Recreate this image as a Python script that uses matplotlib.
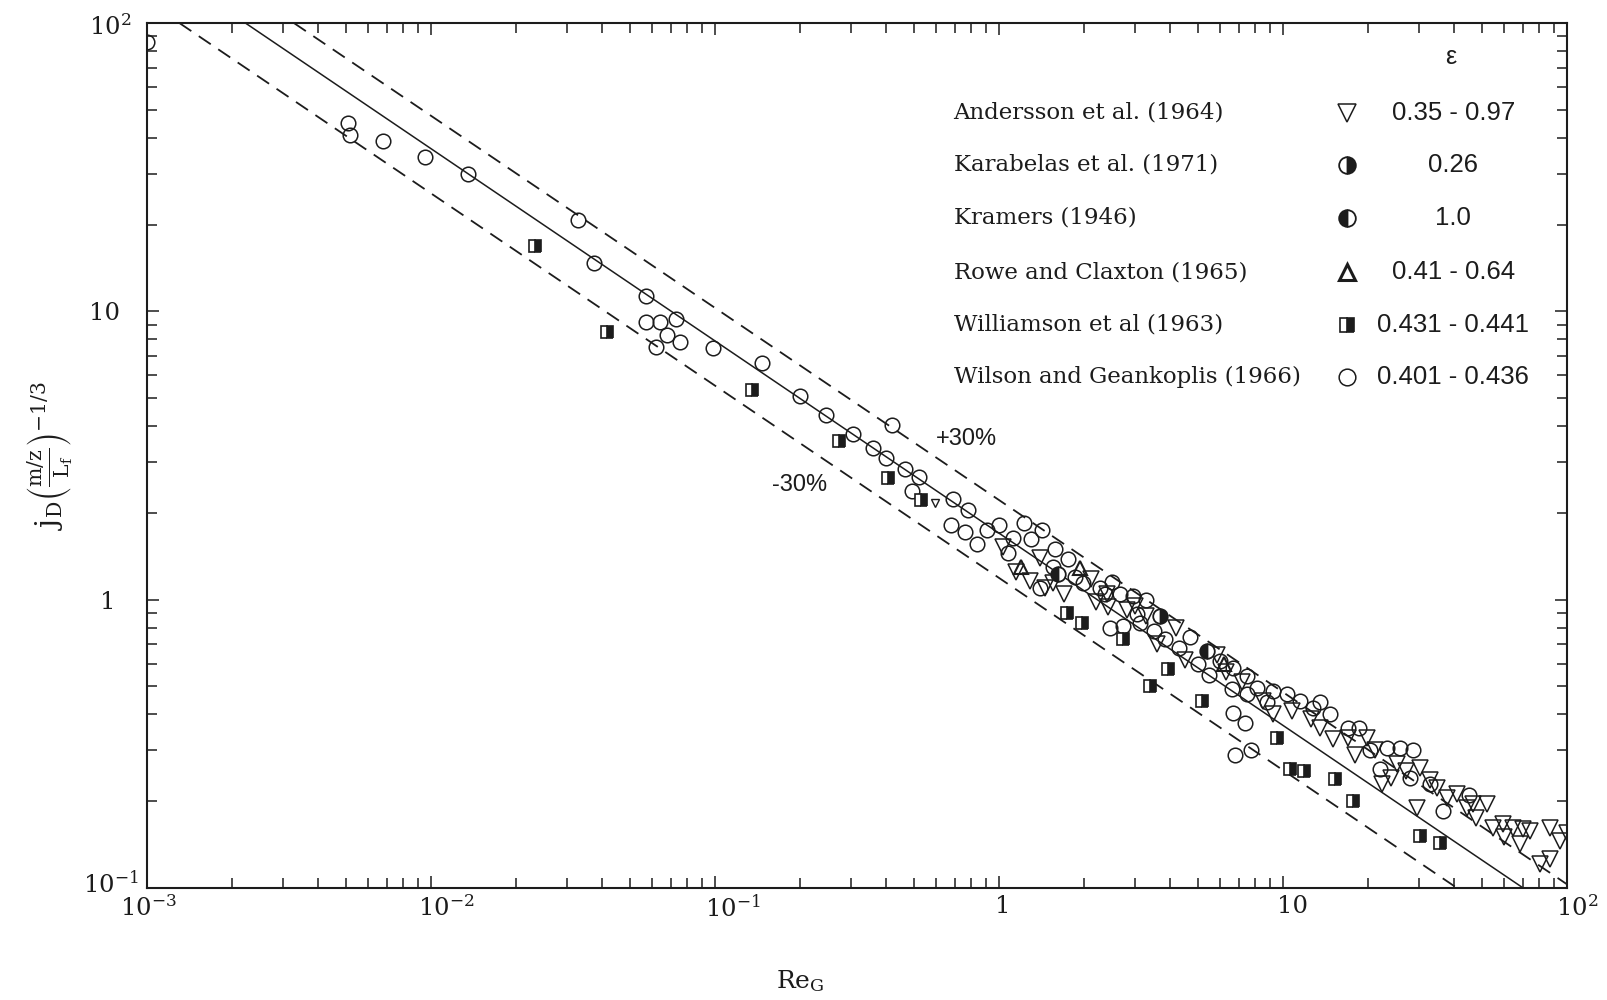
import matplotlib
matplotlib.use("Agg")
import matplotlib.pyplot as plt
from matplotlib.ticker import LogLocator, NullFormatter
from matplotlib.transforms import ScaledTranslation

plt.rcParams['font.family'] = ['DejaVu Serif']
plt.rcParams['mathtext.fontset'] = 'dejavuserif'

INK = '#1c1c1c'
SANS = ['Liberation Sans', 'DejaVu Sans']

# correlation line and the +/-30 % band, end points
corr_x = [0.00222, 70.1]
corr_y = [100, 0.1]
upper_x = [0.00329, 100]
upper_y = [100, 0.103]
lower_x = [0.0013, 41.0]
lower_y = [100, 0.1]

# Wilson and Geankoplis (1966)
wilson_x = [0.001, 0.0051, 0.0052, 0.0068, 0.0095, 0.0135, 0.033, 0.0375,
            0.057, 0.057, 0.064, 0.073, 0.075, 0.062, 0.068, 0.098, 0.146,
            0.20, 0.246, 0.42, 0.306, 0.36, 0.40, 0.467, 0.523, 0.494,
            0.689, 0.78, 0.68, 0.76, 0.84, 0.91, 1.0, 1.12, 1.22, 1.42,
            1.57, 1.39, 1.55, 1.98, 2.27, 2.36, 2.67, 2.96, 2.46, 2.74,
            3.06, 3.14, 3.85, 4.71, 6.0, 6.67, 7.47, 6.6, 7.47, 8.1,
            9.2, 10.3, 11.5, 12.8, 14.6, 16.9, 20.2, 23.2, 25.8, 28.7,
            22.0, 28.0, 36.6, 6.67, 7.35, 6.8, 7.7,
            1.08, 1.3, 1.75, 1.85, 2.5, 3.3, 3.5, 4.3, 5.0, 5.5,
            8.8, 13.5, 18.5, 33.0, 45.0]
wilson_y = [86, 45, 41, 39, 34.3, 30, 20.8, 14.7,
            11.3, 9.2, 9.2, 9.4, 7.8, 7.5, 8.3, 7.45, 6.6,
            5.1, 4.38, 4.05, 3.74, 3.37, 3.11, 2.85, 2.67, 2.39,
            2.24, 2.04, 1.81, 1.71, 1.56, 1.74, 1.81, 1.64, 1.85, 1.74,
            1.50, 1.10, 1.30, 1.14, 1.10, 1.05, 1.05, 1.03, 0.80, 0.81,
            0.89, 0.83, 0.73, 0.74, 0.614, 0.58, 0.545, 0.49, 0.472, 0.495,
            0.483, 0.472, 0.446, 0.422, 0.40, 0.36, 0.30, 0.306, 0.306, 0.30,
            0.259, 0.24, 0.185, 0.405, 0.374, 0.29, 0.30,
            1.45, 1.62, 1.38, 1.20, 1.15, 1.00, 0.78, 0.68, 0.60, 0.55,
            0.44, 0.44, 0.36, 0.23, 0.21]

# Andersson et al. (1964)
andersson_x = [1.03, 1.29, 1.39, 1.55, 1.45, 2.40, 2.42, 2.82, 5.86, 8.5,
               10.8, 15.0, 19.8, 22.3, 25.2, 29.6, 30.4, 33.0, 34.9, 37.8,
               41.0, 44.5, 46.7, 52.3, 54.9, 59.5, 64.6, 68.4, 74.1, 80.4,
               87.1, 94.4, 87.1, 100, 1.7, 2.1, 3.3, 4.2, 3.6, 4.5,
               6.3, 7.2, 9.2, 12.5, 13.5, 17.0, 18.0, 21.0, 24.0, 27.0,
               1.15, 2.2, 3.0, 48.0, 60.0, 70.0]
andersson_y = [1.52, 1.16, 1.40, 1.14, 1.10, 1.05, 0.94, 0.92, 0.644, 0.446,
               0.412, 0.329, 0.332, 0.23, 0.27, 0.19, 0.261, 0.236, 0.222, 0.205,
               0.212, 0.19, 0.196, 0.196, 0.162, 0.167, 0.162, 0.142, 0.158, 0.121,
               0.162, 0.146, 0.126, 0.155, 1.05, 1.18, 0.88, 0.80, 0.70, 0.62,
               0.56, 0.52, 0.40, 0.385, 0.36, 0.33, 0.29, 0.30, 0.24, 0.255,
               1.25, 0.98, 0.95, 0.175, 0.15, 0.16]
andersson_small_x = [0.596]
andersson_small_y = [2.17]

# Williamson et al (1963)
williamson_x = [0.0232, 0.0417, 0.135, 0.273, 0.406, 0.531, 1.73, 1.96, 2.74,
                3.94, 3.40, 5.19, 9.5, 10.6, 11.9, 15.2, 17.6, 30.3, 35.7]
williamson_y = [16.9, 8.45, 5.32, 3.56, 2.65, 2.21, 0.90, 0.83, 0.73,
                0.575, 0.50, 0.446, 0.332, 0.259, 0.255, 0.239, 0.20, 0.152, 0.143]

# Karabelas et al. (1971)
karabelas_x = [3.69]
karabelas_y = [0.879]

# Kramers (1946)
kramers_x = [1.61, 5.4]
kramers_y = [1.23, 0.665]

# Rowe and Claxton (1965)
rowe_x = [1.93, 1.2, 6.2]
rowe_y = [1.29, 1.30, 0.60]

sources = ['Andersson et al. (1964)', 'Karabelas et al. (1971)', 'Kramers (1946)',
           'Rowe and Claxton (1965)', 'Williamson et al (1963)',
           'Wilson and Geankoplis (1966)']
porosity = ['0.35 - 0.97', '0.26', '1.0', '0.41 - 0.64', '0.431 - 0.441',
            '0.401 - 0.436']

x_ticks = [1e-3, 1e-2, 1e-1, 1, 10, 100]
x_tick_labels = [r'$10^{-3}$', r'$10^{-2}$', r'$10^{-1}$', '1', '10', r'$10^{2}$']
y_ticks = [0.1, 1, 10, 100]
y_tick_labels = [r'$10^{-1}$', '1', '10', r'$10^{2}$']

styles = {
    'andersson': dict(marker='v', ms=11, mfc='none', mec=INK, mew=1.1),
    'karabelas': dict(marker='o', ms=10.5, fillstyle='right', mfc=INK, mfcalt='white', mec=INK, mew=1.3),
    'kramers': dict(marker='o', ms=10.5, fillstyle='left', mfc=INK, mfcalt='white', mec=INK, mew=1.3),
    'rowe': dict(marker='^', ms=10.5, mfc='none', mec=INK, mew=1.5),
    'williamson': dict(marker='s', ms=8.5, fillstyle='right', mfc=INK, mfcalt='white', mec=INK, mew=1.2),
    'wilson': dict(marker='o', ms=10.5, mfc='none', mec=INK, mew=1.1),
}

fig = plt.figure(figsize=(16.08, 10), dpi=100)
ax = fig.add_axes([147 / 1608, 112 / 1000, 1420 / 1608, 865 / 1000])
ax.set_xscale('log')
ax.set_yscale('log')
ax.set_xlim(1e-3, 1e2)
ax.set_ylim(1e-1, 1e2)

ax.plot(corr_x, corr_y, color=INK, lw=1.1)
ax.plot(upper_x, upper_y, color=INK, lw=1.3, ls=(0, (8, 5)))
ax.plot(lower_x, lower_y, color=INK, lw=1.3, ls=(0, (8, 5)))

ax.plot(wilson_x, wilson_y, ls='none', **styles['wilson'])
ax.plot(andersson_x, andersson_y, ls='none', **styles['andersson'])
ax.plot(andersson_small_x, andersson_small_y, ls='none', marker='v', ms=6,
        mfc='none', mec=INK, mew=1.0)
ax.plot(williamson_x, williamson_y, ls='none', **styles['williamson'])
ax.plot(karabelas_x, karabelas_y, ls='none', **styles['karabelas'])
ax.plot(kramers_x, kramers_y, ls='none', **styles['kramers'])
ax.plot(rowe_x, rowe_y, ls='none', **styles['rowe'])

ax.text(0.771, 3.62, '+30%', fontsize=17, family=SANS, color=INK,
        ha='center', va='center')
ax.text(0.199, 2.49, '-30%', fontsize=17, family=SANS, color=INK,
        ha='center', va='center')

# legend: source, symbol, voidage
keys = ['andersson', 'karabelas', 'kramers', 'rowe', 'williamson', 'wilson']
rows = [0.896, 0.836, 0.775, 0.712, 0.651, 0.591]
ax.text(0.918, 0.961, 'ε', fontsize=18, family=SANS, color=INK,
        ha='center', va='center', transform=ax.transAxes)
for name, eps, key, yr in zip(sources, porosity, keys, rows):
    ax.text(0.568, yr, name, fontsize=16.5, color=INK, ha='left', va='center',
            transform=ax.transAxes)
    st = dict(styles[key])
    st['ms'] = st['ms'] + 1.5
    if key == 'rowe':
        st['mew'] = 2.2
    ax.plot([0.845], [yr], transform=ax.transAxes, clip_on=False, ls='none', **st)
    ax.text(0.920, yr, eps, fontsize=18.5, family=SANS, color=INK,
            ha='center', va='center', transform=ax.transAxes)

ax.set_xticks(x_ticks, x_tick_labels)
ax.set_yticks(y_ticks, y_tick_labels)
ax.xaxis.set_minor_locator(LogLocator(base=10, subs=range(2, 10)))
ax.yaxis.set_minor_locator(LogLocator(base=10, subs=range(2, 10)))
ax.xaxis.set_minor_formatter(NullFormatter())
ax.yaxis.set_minor_formatter(NullFormatter())
ax.tick_params(which='both', direction='in', top=True, right=True,
               color=INK, width=1.1, labelsize=17.5, labelcolor=INK)
ax.tick_params(which='major', length=8.5)
ax.tick_params(which='minor', length=7)
ax.tick_params(axis='x', pad=5)
ax.tick_params(axis='y', pad=0)
for sp in ax.spines.values():
    sp.set_linewidth(1.5)
    sp.set_color(INK)


def nudge(label, dx, dy=0):
    label.set_transform(label.get_transform() +
                        ScaledTranslation(dx / 100, dy / 100, fig.dpi_scale_trans))


for lab, dx in zip(ax.get_xticklabels(), [1, 15, 18, 4, 10, 10]):
    nudge(lab, dx)
for lab, dx, dy in zip(ax.get_yticklabels(), [-64, -47, -58, -58], [6, 0, 0, -2]):
    lab.set_horizontalalignment('left')
    nudge(lab, dx, dy)

ax.set_xlabel(r'$\mathrm{Re}_{\mathrm{G}}$', fontsize=18, color=INK)
ax.xaxis.set_label_coords(0.46, -0.093)
ax.set_ylabel(r'$\mathrm{j_D}\left(\frac{\mathrm{m/z}}{\mathrm{L_f}}\right)^{\mathrm{-1/3}}$',
              fontsize=21, color=INK)
ax.yaxis.set_label_coords(-0.051, 0.5)

fig.savefig('out.png', dpi=100)
